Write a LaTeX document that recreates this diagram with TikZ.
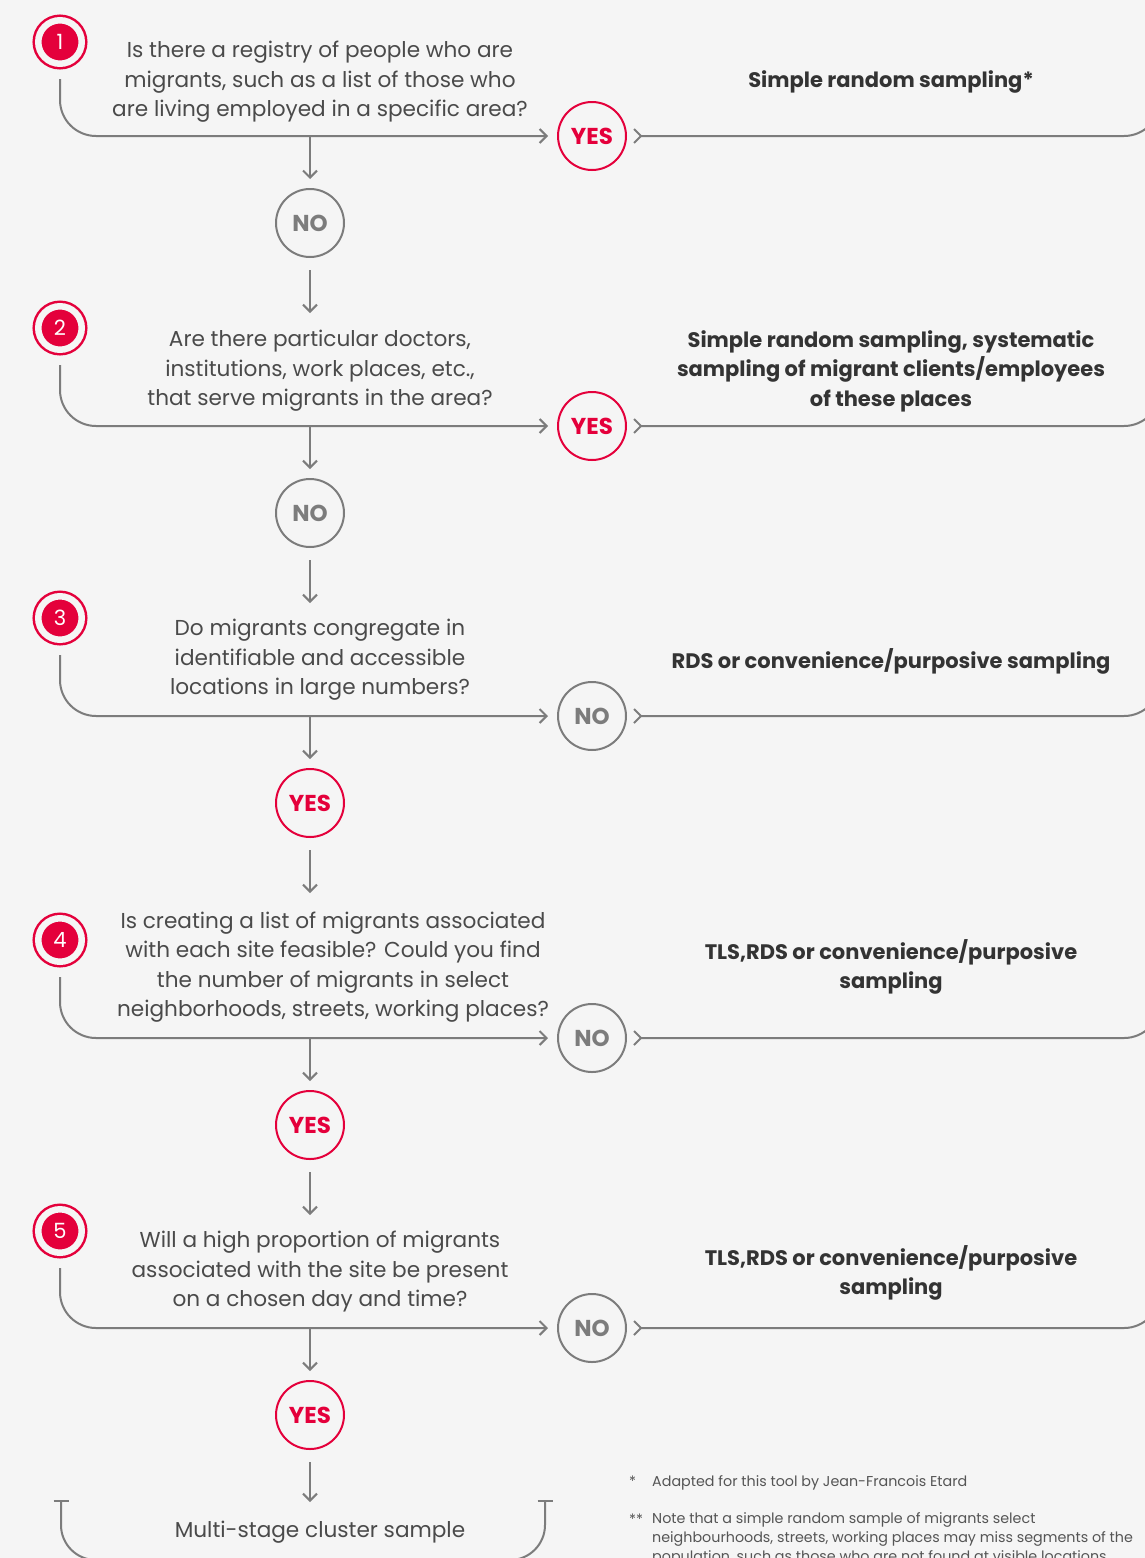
\documentclass[tikz,border=0pt]{standalone}
\usepackage{fontspec}
\setmainfont{Poppins}
\usetikzlibrary{arrows.meta}
\definecolor{bgc}{HTML}{F5F5F5}
\definecolor{brandred}{HTML}{E4003B}
\definecolor{lnc}{HTML}{7C7C7C}
\definecolor{txtc}{HTML}{4A4A4A}
\definecolor{boldc}{HTML}{333333}
\definecolor{notec}{HTML}{555555}
\begin{document}
\begin{tikzpicture}[x=1pt,y=-1pt,
  numc/.style={circle, draw=brandred, fill=brandred, line width=2.5pt, double=bgc, double distance=6.5pt,
    minimum size=43.5pt, inner sep=0pt, text=white, font=\fontsize{21}{21}\selectfont},
  yesc/.style={circle, draw=brandred, line width=2pt, minimum size=68pt, inner sep=0pt,
    text=brandred, font=\bfseries\fontsize{23}{23}\selectfont},
  noc/.style={circle, draw=lnc, line width=2pt, minimum size=68pt, inner sep=0pt,
    text=lnc, font=\bfseries\fontsize{23}{23}\selectfont},
  qtext/.style={align=center, text=txtc, inner sep=0pt, font=\fontsize{21.6}{29.5}\selectfont},
  rtext/.style={align=center, text=boldc, inner sep=0pt, font=\bfseries\fontsize{21}{29.5}\selectfont},
  conn/.style={draw=lnc, line width=2pt},
  tipr/.style={-{Straight Barb[length=7pt,width=14pt,line width=2pt]}},
  tail/.style={{Straight Barb[reversed,length=7pt,width=14pt,line width=2pt]}-},
  notet/.style={align=left, text=notec, inner sep=0pt, font=\fontsize{14.3}{19}\selectfont}
]
\fill[bgc] (0,0) rectangle (1145,1558);
\useasboundingbox (0,0) rectangle (1145,1558);

% ---------- Block 1
\node[numc] (n1) at (60,42) {1};
\node[qtext] (q1) at (320,82) {Is there a registry of people who are\\migrants, such as a list of those who\\are living employed in a specific area?};
\node[yesc] (c1) at (592,136) {YES};
\node[rtext] (r1) at (891,82) {Simple random sampling*};
\node[noc] (d1) at (310,223) {NO};
\coordinate (e1) at (1160,60);
\draw[conn, tipr, rounded corners=36pt, shorten <=14pt, shorten >=9pt] (n1.south) |- (c1.west);
\draw[conn, tail, rounded corners=36pt, shorten <=6pt] (c1.east) -| (e1);
\draw[conn, tipr] (d1.north |- c1.center) -- ([yshift=9pt]d1.north);
\draw[conn, tipr] (d1.south) ++(0,12) -- ++(0,43);

% ---------- Block 2
\node[numc] (n2) at (60,328) {2};
\node[qtext] (q2) at (320,371) {Are there particular doctors,\\institutions, work places, etc.,\\that serve migrants in the area?};
\node[yesc] (c2) at (592,426) {YES};
\node[rtext] (r2) at (891,371) {Simple random sampling, systematic\\sampling of migrant clients/employees\\of these places};
\node[noc] (d2) at (310,513) {NO};
\coordinate (e2) at (1160,350);
\draw[conn, tipr, rounded corners=36pt, shorten <=14pt, shorten >=9pt] (n2.south) |- (c2.west);
\draw[conn, tail, rounded corners=36pt, shorten <=6pt] (c2.east) -| (e2);
\draw[conn, tipr] (d2.north |- c2.center) -- ([yshift=9pt]d2.north);
\draw[conn, tipr] (d2.south) ++(0,12) -- ++(0,43);

% ---------- Block 3
\node[numc] (n3) at (60,618) {3};
\node[qtext] (q3) at (320,660) {Do migrants congregate in\\identifiable and accessible\\locations in large numbers?};
\node[noc] (c3) at (592,716) {NO};
\node[rtext] (r3) at (891,661) {RDS or convenience/purposive sampling};
\node[yesc] (d3) at (310,803) {YES};
\coordinate (e3) at (1160,640);
\draw[conn, tipr, rounded corners=36pt, shorten <=14pt, shorten >=9pt] (n3.south) |- (c3.west);
\draw[conn, tail, rounded corners=36pt, shorten <=6pt] (c3.east) -| (e3);
\draw[conn, tipr] (d3.north |- c3.center) -- ([yshift=9pt]d3.north);
\draw[conn, tipr] (d3.south) ++(0,12) -- ++(0,43);

% ---------- Block 4
\node[numc] (n4) at (60,940) {4};
\node[qtext] (q4) at (333,967) {Is creating a list of migrants associated\\with each site feasible? Could you find\\the number of migrants in select\\neighborhoods, streets, working places?};
\node[noc] (c4) at (592,1038) {NO};
\node[rtext] (r4) at (891,967) {TLS,RDS or convenience/purposive\\sampling};
\node[yesc] (d4) at (310,1125) {YES};
\coordinate (e4) at (1160,960);
\draw[conn, tipr, rounded corners=36pt, shorten <=14pt, shorten >=9pt] (n4.south) |- (c4.west);
\draw[conn, tail, rounded corners=36pt, shorten <=6pt] (c4.east) -| (e4);
\draw[conn, tipr] (d4.north |- c4.center) -- ([yshift=9pt]d4.north);
\draw[conn, tipr] (d4.south) ++(0,12) -- ++(0,43);

% ---------- Block 5
\node[numc] (n5) at (60,1231) {5};
\node[qtext] (q5) at (320,1272) {Will a high proportion of migrants\\associated with the site be present\\on a chosen day and time?};
\node[noc] (c5) at (592,1328) {NO};
\node[rtext] (r5) at (891,1273) {TLS,RDS or convenience/purposive\\sampling};
\node[yesc] (d5) at (310,1415) {YES};
\coordinate (e5) at (1160,1250);
\draw[conn, tipr, rounded corners=36pt, shorten <=14pt, shorten >=9pt] (n5.south) |- (c5.west);
\draw[conn, tail, rounded corners=36pt, shorten <=6pt] (c5.east) -| (e5);
\draw[conn, tipr] (d5.north |- c5.center) -- ([yshift=9pt]d5.north);

% ---------- Final
\node[qtext] (fin) at (320,1532) {Multi-stage cluster sample};
\draw[conn, tipr] (d5.south) ++(0,12) -- ++(0,40);
\coordinate (bl) at (61,1500);
\coordinate (blb) at (300,1560);
\coordinate (br) at (545,1500);
\coordinate (brb) at (310,1560);
\draw[conn, {Bar[width=15pt,line width=2pt]}-, rounded corners=35pt] (bl) |- (blb);
\draw[conn, {Bar[width=15pt,line width=2pt]}-, rounded corners=35pt] (br) |- (brb);

% ---------- Notes
\node[notet, anchor=base west] (s1) at (629,1486) {*};
\node[notet, anchor=base west] (t1) at (652,1486) {Adapted for this tool by Jean-Francois Etard};
\node[notet, anchor=base west] (s2) at (629,1524) {**};
\node[notet, anchor=north west] (t2) at ([yshift=14pt]652,1526) {Note that a simple random sample of migrants select\\neighbourhoods, streets, working places may miss segments of the\\population, such as those who are not found at visible locations.};
\end{tikzpicture}
\end{document}
